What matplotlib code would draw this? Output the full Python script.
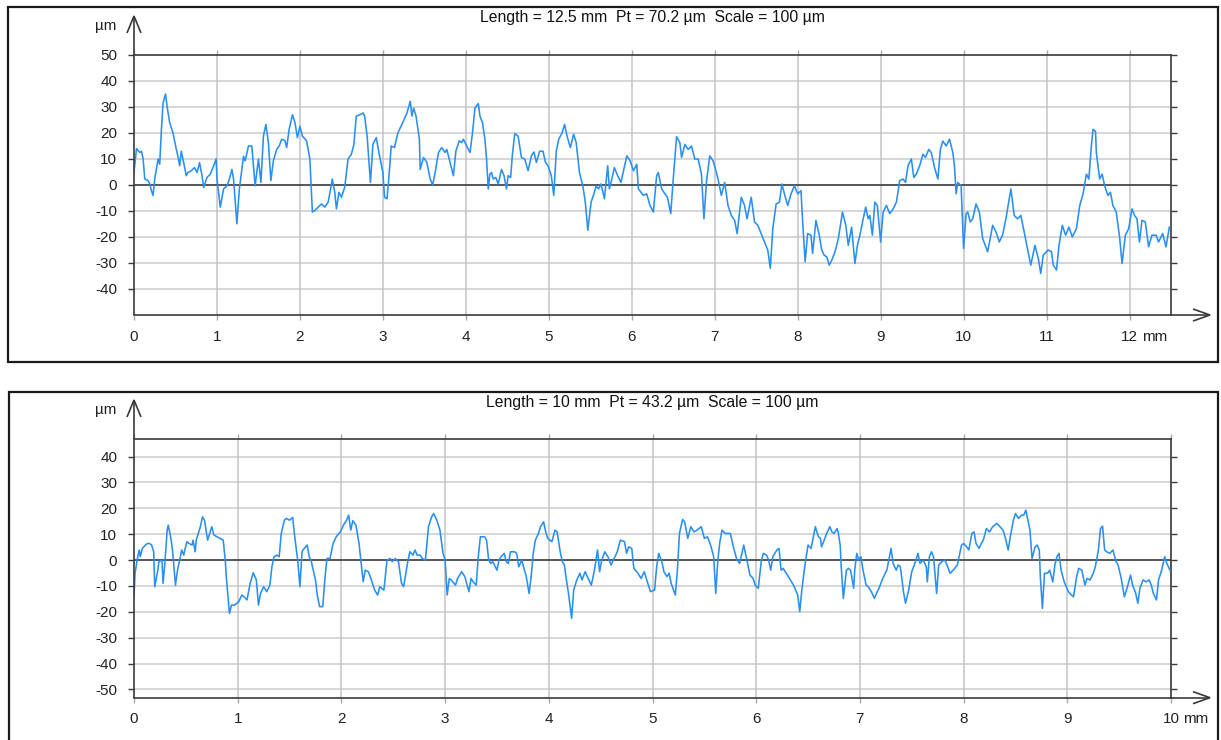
import matplotlib
matplotlib.use('Agg')
import matplotlib.pyplot as plt
from matplotlib.patches import Rectangle
from matplotlib.lines import Line2D

# ── Profile data (x in mm, height in µm) ────────────────────────────────────
top_x = [0.00, 0.03, 0.07, 0.09, 0.11, 0.13, 0.17, 0.19, 0.21, 0.23, 0.25, 0.29, 0.31, 0.33, 0.35, 0.38,
         0.40, 0.43, 0.47, 0.51, 0.53, 0.55, 0.57, 0.59, 0.63, 0.65, 0.69, 0.73, 0.76, 0.79, 0.82, 0.84,
         0.88, 0.92, 0.96, 0.99, 1.00, 1.04, 1.08, 1.12, 1.15, 1.18, 1.20, 1.24, 1.27, 1.32, 1.34, 1.38,
         1.42, 1.46, 1.50, 1.53, 1.56, 1.59, 1.62, 1.65, 1.68, 1.72, 1.75, 1.78, 1.82, 1.84, 1.87, 1.91,
         1.94, 1.97, 2.00, 2.03, 2.08, 2.12, 2.15, 2.18, 2.22, 2.26, 2.30, 2.34, 2.37, 2.39, 2.42, 2.44,
         2.47, 2.50, 2.54, 2.58, 2.62, 2.65, 2.68, 2.72, 2.76, 2.78, 2.81, 2.85, 2.88, 2.92, 2.96, 3.00,
         3.02, 3.05, 3.08, 3.10, 3.14, 3.18, 3.24, 3.29, 3.33, 3.35, 3.37, 3.40, 3.44, 3.45, 3.49, 3.53,
         3.57, 3.60, 3.63, 3.67, 3.71, 3.75, 3.77, 3.81, 3.85, 3.88, 3.92, 3.95, 3.97, 4.01, 4.05, 4.08,
         4.11, 4.15, 4.17, 4.20, 4.23, 4.25, 4.27, 4.29, 4.31, 4.33, 4.36, 4.39, 4.43, 4.46, 4.49, 4.51,
         4.54, 4.56, 4.59, 4.63, 4.67, 4.71, 4.75, 4.79, 4.82, 4.85, 4.89, 4.93, 4.96, 4.99, 5.03, 5.06,
         5.09, 5.12, 5.16, 5.19, 5.22, 5.26, 5.30, 5.33, 5.37, 5.41, 5.44, 5.47, 5.51, 5.55, 5.57, 5.60,
         5.63, 5.67, 5.71, 5.73, 5.76, 5.79, 5.83, 5.87, 5.94, 5.98, 6.02, 6.06, 6.08, 6.14, 6.18, 6.22,
         6.26, 6.30, 6.32, 6.36, 6.40, 6.43, 6.47, 6.50, 6.54, 6.58, 6.60, 6.64, 6.68, 6.72, 6.76, 6.80,
         6.84, 6.87, 6.90, 6.94, 6.98, 7.01, 7.04, 7.08, 7.12, 7.16, 7.20, 7.24, 7.27, 7.32, 7.36, 7.39,
         7.44, 7.48, 7.52, 7.56, 7.60, 7.64, 7.67, 7.70, 7.74, 7.78, 7.81, 7.84, 7.88, 7.92, 7.96, 8.00,
         8.04, 8.06, 8.09, 8.12, 8.16, 8.18, 8.22, 8.26, 8.29, 8.32, 8.35, 8.38, 8.41, 8.45, 8.49, 8.54,
         8.58, 8.61, 8.65, 8.69, 8.72, 8.75, 8.79, 8.82, 8.85, 8.87, 8.90, 8.93, 8.96, 9.00, 9.03, 9.07,
         9.11, 9.15, 9.19, 9.23, 9.27, 9.30, 9.33, 9.37, 9.40, 9.43, 9.47, 9.51, 9.54, 9.58, 9.61, 9.65,
         9.69, 9.72, 9.75, 9.79, 9.83, 9.87, 9.89, 9.91, 9.93, 9.97, 10.00, 10.03, 10.05, 10.08, 10.11, 10.15,
         10.19, 10.23, 10.29, 10.35, 10.39, 10.43, 10.47, 10.51, 10.57, 10.61, 10.65, 10.69, 10.73, 10.77, 10.81, 10.86,
         10.90, 10.93, 10.96, 11.02, 11.06, 11.08, 11.12, 11.15, 11.19, 11.23, 11.27, 11.31, 11.36, 11.40, 11.44, 11.48,
         11.51, 11.54, 11.56, 11.59, 11.60, 11.64, 11.67, 11.70, 11.74, 11.77, 11.80, 11.84, 11.88, 11.91, 11.95, 11.99,
         12.03, 12.06, 12.09, 12.12, 12.15, 12.19, 12.23, 12.27, 12.32, 12.35, 12.40, 12.44, 12.48]
top_y = [5, 14, 12.5, 13, 10, 2.3, 1.7, 0.4, -2.2, -4, 2.3, 10, 8, 21, 31.5, 35,
         30, 24, 20, 13.7, 11, 7.4, 13, 10, 3.6, 4.8, 5.5, 6.7, 4.8, 8.6, 3.6, -0.9,
         2.9, 4.2, 7.4, 10, 2.3, -8.5, -1.5, -0.3, 2.3, 6, 2.3, -14.9, -1.5, 11, 9.3, 15,
         15, -0.3, 10, 1, 18.8, 23.3, 16.3, 1.7, 9.3, 13.7, 15, 17.6, 17, 14.4, 21.4, 27,
         24, 18.2, 22.6, 18.8, 17, 10, -10.4, -9.8, -8.5, -7.3, -8.5, -6.6, -1.5, 2.3, -2.8, -9.2,
         -2.8, -4.7, -0.9, 10, 11.8, 15.6, 26.5, 27, 27.7, 26.5, 18.8, 1, 15.6, 18.2, 11.2, 4.8,
         -4.7, -5.3, 6, 15, 14.4, 20, 24, 27.7, 32.2, 26.5, 29.6, 26.5, 17.6, 6, 10.6, 8.7,
         2.3, 0, 4.8, 12.5, 14.4, 12.5, 13.7, 8.7, 3.6, 13, 17, 16.3, 17.6, 15, 12.5, 20,
         29.6, 31.3, 26.5, 24, 17.6, 10, -1.5, 4.2, 4.8, 2.3, 2.9, 0.4, 6, 3.6, -1.5, 3.6,
         2.9, 11.2, 19.8, 18.8, 10.6, 10, 5.5, 11.2, 12.7, 8.7, 13, 13, 8.7, 7.4, 3.6, -4,
         13, 17.6, 20, 23.3, 18.8, 14.4, 19.5, 16.3, 4.8, -0.3, -6.6, -17.4, -6.6, -2.8, -0.3, -1.5,
         0.4, -5.3, 7.4, -1.5, 2.3, 6.7, 3.6, 1, 11.2, 9.3, 5.5, 8, -1.5, -4, -3.4, -7.9,
         -10.4, 3.6, 4.8, -1.5, -3.4, -4.7, -11, 2.3, 18.6, 16.3, 10.6, 15.6, 13.7, 15, 10, 10,
         4.2, -13, 1, 11.2, 9.3, 6, 2.3, -4, 1, -7.9, -11.7, -13.6, -18.7, -4.7, -7.9, -13,
         -4.7, -14.2, -15.5, -18.7, -21.9, -25.1, -32, -16.8, -7.3, -6.6, 0.4, -3.4, -7.9, -3.4, -0.3, -3.4,
         -2.2, -14.2, -29.5, -18.7, -19.3, -26.3, -13.6, -19.3, -25, -27, -27.6, -30.8, -29, -25.7, -20.6, -10.4,
         -15.5, -23.2, -16.2, -30.2, -23.2, -19.3, -13, -8.5, -13, -11.7, -19.3, -6.6, -7.9, -21.9, -10.4, -7.9,
         -11, -9.2, -6.6, 1.7, 2.3, 1, 7.4, 10, 2.9, 4.2, 7.4, 11.8, 10.6, 13.7, 12.5, 6.7,
         2.3, 13.7, 16.9, 15, 17.6, 12.5, 7.4, -3.4, 1, -0.3, -24.4, -11, -10.4, -14.2, -13, -7.3,
         -10.4, -20.6, -25.7, -15.5, -18, -21.9, -19.3, -13, -1.5, -11.7, -13, -11.7, -18, -24.4, -30.8, -23.2,
         -28.2, -34, -27, -25, -25.7, -30.8, -32.7, -23.2, -15.5, -19.3, -16.2, -20, -16.8, -7.9, -3.4, 4.2,
         2.3, 15, 21.4, 20.7, 12.5, 2.3, 4.2, -0.3, -4, -2.8, -7.9, -10.4, -20, -30.2, -19.3, -16.8,
         -9.2, -11.7, -13, -21.9, -13.6, -14.2, -23.8, -19.3, -19.3, -21.9, -18.7, -23.8, -16.2]

bot_x = [0.00, 0.01, 0.03, 0.05, 0.06, 0.08, 0.11, 0.13, 0.15, 0.17, 0.19, 0.20, 0.23, 0.24, 0.27, 0.28,
         0.30, 0.32, 0.33, 0.35, 0.37, 0.40, 0.42, 0.44, 0.46, 0.48, 0.49, 0.51, 0.53, 0.56, 0.57, 0.59,
         0.60, 0.64, 0.66, 0.68, 0.71, 0.73, 0.75, 0.77, 0.80, 0.83, 0.86, 0.88, 0.89, 0.92, 0.94, 0.97,
         1.01, 1.04, 1.06, 1.09, 1.12, 1.15, 1.18, 1.20, 1.22, 1.25, 1.28, 1.31, 1.33, 1.35, 1.38, 1.40,
         1.42, 1.45, 1.47, 1.50, 1.53, 1.55, 1.58, 1.60, 1.62, 1.63, 1.67, 1.69, 1.71, 1.75, 1.77, 1.79,
         1.82, 1.84, 1.86, 1.89, 1.92, 1.95, 1.99, 2.02, 2.05, 2.07, 2.09, 2.11, 2.14, 2.17, 2.21, 2.23,
         2.26, 2.29, 2.32, 2.35, 2.37, 2.41, 2.44, 2.47, 2.49, 2.52, 2.55, 2.58, 2.60, 2.64, 2.66, 2.69,
         2.71, 2.73, 2.76, 2.78, 2.81, 2.84, 2.87, 2.89, 2.92, 2.95, 2.98, 3.00, 3.02, 3.04, 3.06, 3.10,
         3.12, 3.16, 3.19, 3.23, 3.25, 3.27, 3.30, 3.32, 3.34, 3.38, 3.40, 3.42, 3.44, 3.46, 3.50, 3.52,
         3.54, 3.57, 3.59, 3.61, 3.63, 3.67, 3.69, 3.71, 3.74, 3.76, 3.78, 3.81, 3.83, 3.85, 3.87, 3.90,
         3.92, 3.95, 3.97, 3.99, 4.03, 4.06, 4.08, 4.11, 4.13, 4.15, 4.17, 4.19, 4.22, 4.24, 4.27, 4.30,
         4.32, 4.35, 4.38, 4.41, 4.44, 4.47, 4.49, 4.51, 4.54, 4.57, 4.60, 4.63, 4.66, 4.69, 4.73, 4.75,
         4.77, 4.80, 4.82, 4.86, 4.89, 4.92, 4.95, 4.98, 5.02, 5.04, 5.06, 5.09, 5.11, 5.14, 5.16, 5.18,
         5.22, 5.24, 5.26, 5.29, 5.31, 5.34, 5.37, 5.40, 5.43, 5.47, 5.50, 5.53, 5.56, 5.59, 5.61, 5.63,
         5.65, 5.67, 5.70, 5.75, 5.78, 5.81, 5.84, 5.88, 5.91, 5.94, 5.97, 5.99, 6.02, 6.05, 6.07, 6.10,
         6.12, 6.14, 6.16, 6.20, 6.22, 6.24, 6.26, 6.29, 6.33, 6.36, 6.38, 6.40, 6.42, 6.44, 6.47, 6.50,
         6.53, 6.57, 6.60, 6.62, 6.63, 6.65, 6.68, 6.71, 6.73, 6.75, 6.78, 6.79, 6.81, 6.82, 6.84, 6.87,
         6.89, 6.91, 6.94, 6.95, 6.97, 6.99, 7.01, 7.03, 7.06, 7.08, 7.11, 7.14, 7.16, 7.19, 7.22, 7.26,
         7.30, 7.32, 7.35, 7.37, 7.39, 7.42, 7.44, 7.47, 7.50, 7.53, 7.56, 7.58, 7.61, 7.64, 7.65, 7.67,
         7.69, 7.71, 7.74, 7.76, 7.79, 7.82, 7.84, 7.87, 7.90, 7.94, 7.96, 7.98, 8.00, 8.03, 8.05, 8.08,
         8.10, 8.12, 8.15, 8.17, 8.19, 8.22, 8.25, 8.28, 8.30, 8.32, 8.35, 8.38, 8.40, 8.43, 8.45, 8.48,
         8.50, 8.53, 8.56, 8.58, 8.60, 8.62, 8.64, 8.66, 8.69, 8.71, 8.73, 8.74, 8.76, 8.78, 8.81, 8.83,
         8.86, 8.88, 8.90, 8.92, 8.94, 8.97, 9.01, 9.04, 9.06, 9.09, 9.11, 9.14, 9.17, 9.19, 9.22, 9.25,
         9.27, 9.30, 9.32, 9.34, 9.36, 9.38, 9.41, 9.44, 9.47, 9.49, 9.52, 9.55, 9.58, 9.61, 9.63, 9.66,
         9.68, 9.70, 9.73, 9.76, 9.79, 9.81, 9.83, 9.86, 9.88, 9.91, 9.94, 9.96, 9.99]
bot_y = [-14, -5.1, 0, 3.9, 1.3, 4.5, 5.8, 6.4, 6.4, 5.8, 3.2, -10.3, -3.9, -0.6, 0, -9,
         0, 11.6, 13.5, 9.7, 4.5, -9.7, -3.9, 0, 3.9, 1.9, 3.9, 7.1, 6.4, 5.8, 7.7, 3.2,
         7.7, 12.9, 16.7, 15.4, 7.7, 10.3, 12.9, 9.7, 9, 8.4, 7.7, 0, -6.4, -20.6, -17.4, -17.4,
         -16.1, -13.5, -14.2, -15.4, -9, -4.9, -7.7, -17.4, -12.9, -10.3, -12.2, -9.7, -2.6, 1.3, 1.9, 1.3,
         10.3, 15.4, 16.1, 15.4, 16.5, 9, -0.6, -10.3, 3.2, 3.9, 5.8, 1.3, -0.6, -7.7, -14.2, -18,
         -18, -7.7, 0.6, 0.6, 6.4, 9, 10.9, 13.5, 15.4, 17.4, 11.6, 15.2, 13.5, 6.4, -8.4, -3.9,
         -4.5, -7.7, -11.6, -13.5, -10.3, -11.6, 0, 0.6, -0.6, 0.6, -0.6, -9, -10.3, -0.6, 3.2, 1.9,
         3.9, 1.9, 1.9, 0.6, 0, 12.9, 16.7, 18, 15.4, 11.6, 2.6, 0, -13.5, -7.1, -7.7, -9.7,
         -7.1, -4.5, -6.4, -12.2, -7.1, -8.4, -9.7, 1.3, 9, 9, 7.7, 0, -1.3, -0.6, -3.9, 0,
         1.3, 2.6, -0.6, -1.3, 3.2, 3.2, 2.6, -2.6, 0, -3.2, -5.8, -12.9, -6.4, 2.6, 7.7, 10.3,
         12.9, 14.8, 10.9, 8.4, 7.1, 11.6, 10.9, 3.2, -0.6, -1.9, -7.7, -12.9, -22.5, -11.6, -7.7, -5.1,
         -7.7, -4.5, -7.1, -9.7, -3.9, 3.9, -4.5, 0, 3.2, 1.3, -1.9, 0.6, 3.2, 7.7, 7.1, 2.6,
         5.1, 4.5, -3.2, -5.1, -7.1, -4.5, -8.4, -12.2, -11.6, -2.6, 2.6, -0.6, -4.5, -6.4, -5.1, -9,
         -13.5, -3.9, 10.3, 15.7, 14.8, 8.4, 12.9, 10.9, 11.6, 12.9, 8.4, 9, 5.8, 1.3, -12.9, 0,
         7.1, 11.6, 10.3, 10.3, 5.1, 0.6, -1.3, 5.8, 0, -5.8, -7.1, -9.7, -10.9, 0, 2.6, 1.9,
         0, -3.9, 1.3, 3.9, 4.5, -3.9, -3.2, -5.1, -7.7, -9.7, -11.6, -13.5, -19.9, -11.6, -1.9, 5.8,
         4.5, 12.9, 9, 8.4, 5.1, 7.1, 10.3, 12.9, 10.9, 10.3, 12.2, 10.9, 5.8, -2.6, -14.8, -3.9,
         -3.2, -3.9, -10.9, -3.9, 2.6, 0, 1.3, -3.9, -9.7, -10.3, -12.2, -14.8, -12.9, -10.3, -7.1, -3.9,
         4.5, -1.3, -3.9, -1.9, -2.6, -12.2, -16.7, -11.6, -4.5, -1.3, 2.6, -1.3, 0, -2.6, -8.4, 1.3,
         3.2, 1.3, -12.9, -1.9, -0.6, 0, -1.9, -5.1, -3.9, -1.9, 1.9, 5.8, 6.4, 5.1, 3.9, 10.3,
         10.9, 6.4, 4.5, 6.4, 7.7, 12.2, 10.9, 12.9, 13.5, 14.2, 12.9, 11.6, 9, 3.9, 9, 15.4,
         18, 16.1, 17.4, 17.4, 19.3, 15.4, 11.6, 0.6, 5.1, 5.8, 3.9, -6.4, -18.7, -5.1, -5.1, -3.9,
         -8.4, -1.9, 1.3, 2.6, -3.9, -8.4, -12.2, -13.5, -14.2, -6.4, -3.2, -3.9, -9.7, -7.1, -7.7, -5.1,
         -2.6, 3.9, 12.2, 13.1, 3.9, 3.2, 2.6, 3.9, -0.6, -1.9, -7.1, -14.2, -10.3, -5.8, -9.7, -12.9,
         -16.7, -10.9, -7.7, -8.4, -7.7, -9.7, -12.9, -15.4, -7.7, -3.9, 1.3, -1.3, -3.9]

top_title = "Length = 12.5 mm  Pt = 70.2 µm  Scale = 100 µm"
bot_title = "Length = 10 mm  Pt = 43.2 µm  Scale = 100 µm"
top_yticks = [50, 40, 30, 20, 10, 0, -10, -20, -30, -40]
bot_yticks = [40, 30, 20, 10, 0, -10, -20, -30, -40, -50]

# ── Layout (pixels of the 1221x740 canvas) ───────────────────────────────────
W, H = 1221, 740
DARK, GRID, VGRID, BLUE = '#3a3a3a', '#cfcfcf', '#c4c4c4', '#2a8ff0'

plt.rcParams['font.family'] = ['Liberation Sans', 'DejaVu Sans']
fig = plt.figure(figsize=(W / 100, H / 100), dpi=100)
fig.patch.set_facecolor('white')


def fx(x):
    return x / W


def fy(y):
    return 1 - y / H


def fline(xs, ys, **kw):
    fig.add_artist(Line2D([fx(v) for v in xs], [fy(v) for v in ys],
                          transform=fig.transFigure, solid_capstyle='butt', **kw))


def panel(xs, ys, box, frame, ylim, yticks, xmax, title):
    left, top, right, bottom = box
    fl, ft, fr, fb = frame
    fig.add_artist(Rectangle((fx(fl), fy(fb)), fx(fr) - fx(fl), fy(ft) - fy(fb),
                             transform=fig.transFigure, fill=False, lw=1.6, ec='#1a1a1a'))

    ax = fig.add_axes([fx(left), fy(bottom), fx(right) - fx(left), fy(top) - fy(bottom)])
    ax.set_facecolor('none')
    ax.plot(xs, ys, color=BLUE, lw=1.15, zorder=4)
    ax.set_xlim(0, xmax)
    ax.set_ylim(*ylim)

    xticks = list(range(int(xmax) + 1))
    for v in yticks:
        if v != 0 and v != ylim[1]:
            ax.axhline(v, color=GRID, lw=1.2, zorder=1)
    for v in xticks[1:]:
        ax.axvline(v, color=VGRID, lw=1.1, zorder=1)
    ax.axhline(0, color=DARK, lw=1.2, zorder=3)

    for s in ['top', 'right', 'bottom']:
        ax.spines[s].set_color(DARK)
        ax.spines[s].set_linewidth(1.2)
    ax.spines['left'].set_visible(False)

    ax.set_yticks(yticks)
    ax.set_yticklabels([str(v) for v in yticks])
    ax.tick_params(axis='y', left=True, right=True, labelright=False, length=4.5,
                   width=1.0, color=DARK, pad=7.5, labelsize=11, labelcolor='#222')
    ax.set_xticks(xticks)
    ax.set_xticklabels([str(v) for v in xticks])
    ax.tick_params(axis='x', top=True, bottom=True, length=3.5, width=1.0,
                   color='#aaaaaa', pad=7, labelsize=11, labelcolor='#222')
    ax.annotate('mm', xy=(xticks[-1], 0), xycoords=('data', 'axes fraction'),
                xytext=(9, -10.5), textcoords='offset points', ha='left', va='top',
                fontsize=11, color='#222')

    # y axis with open arrow head
    tip = top - 39
    fline([left, left], [bottom, tip], color=DARK, lw=1.2)
    fline([left - 7, left, left + 7], [tip + 17, tip, tip + 17], color=DARK, lw=1.2,
          solid_joinstyle='miter')
    # x axis extended to an open arrow head
    xtip = right + 39
    fline([right, xtip], [bottom, bottom], color=DARK, lw=1.2)
    fline([xtip - 17, xtip, xtip - 17], [bottom - 6, bottom, bottom + 6], color=DARK, lw=1.2,
          solid_joinstyle='miter')

    fig.text(fx(106), fy(tip + 10), 'µm', ha='center', va='center', fontsize=11, color='#222')
    fig.text(fx(652), fy(ft + 10.5), title, ha='center', va='center', fontsize=11.3, color='#111')
    return ax


panel(top_x, top_y, (134, 55, 1171, 315), (8, 7, 1218, 362), (-50, 50), top_yticks, 12.5, top_title)
panel(bot_x, bot_y, (134, 439, 1171, 697.7), (9, 392, 1218, 760), (-53.2, 46.8), bot_yticks, 10, bot_title)

fig.savefig('out.png', dpi=100, facecolor='white')
